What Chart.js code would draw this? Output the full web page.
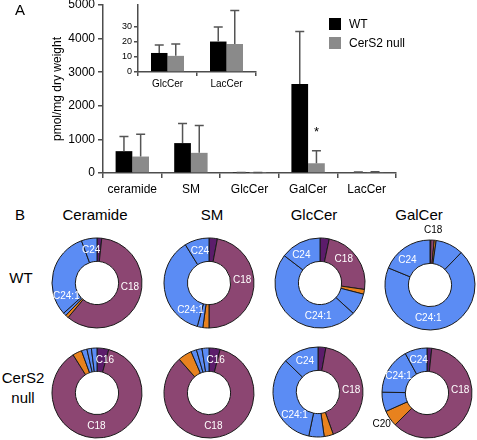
<!DOCTYPE html>
<html>
<head>
<meta charset="utf-8">
<script src="https://cdn.jsdelivr.net/npm/chart.js@4.4.0/dist/chart.umd.min.js"></script>
<style>
  html, body { margin: 0; padding: 0; background: #fff; }
  body { width: 477px; height: 440px; position: relative; overflow: hidden;
         font-family: "Liberation Sans", Arial, Helvetica, sans-serif; color: #000; }
  .abs { position: absolute; }
  .txt { position: absolute; white-space: nowrap; line-height: 1; transform: translate(-50%, -50%); text-align: center; }
  .key { position: absolute; width: 12px; height: 12px; }
</style>
</head>
<body>
<!-- panel A -->
<canvas id="main" class="abs" width="477" height="200" style="left:0;top:0"></canvas>
<canvas id="inset" class="abs" width="180" height="95" style="left:90px;top:0"></canvas>
<div class="txt" style="left:20px;top:9px;font-size:15px">A</div>
<div class="key" style="left:329px;top:18px;background:#000"></div>
<div class="abs" style="left:349px;top:17px;font-size:12px;line-height:14px">WT</div>
<div class="key" style="left:329px;top:37px;background:#8a8a8a"></div>
<div class="abs" style="left:349px;top:36px;font-size:12px;line-height:14px">CerS2 null</div>

<!-- panel B -->
<div class="txt" style="left:20px;top:214px;font-size:15px">B</div>
<div class="txt" style="left:95px;top:214px;font-size:15px">Ceramide</div>
<div class="txt" style="left:212px;top:214px;font-size:15px">SM</div>
<div class="txt" style="left:314px;top:214px;font-size:15px">GlcCer</div>
<div class="txt" style="left:419px;top:214px;font-size:15px">GalCer</div>
<div class="txt" style="left:21px;top:277px;font-size:15px">WT</div>
<div class="txt" style="left:23px;top:388px;font-size:15px;line-height:20px">CerS2<br>null</div>
<div id="donuts"></div>

<script>
// ---- panel A data ----
const categories = ['ceramide', 'SM', 'GlcCer', 'GalCer', 'LacCer'];
const wtMean = [650, 890, 12.5, 2650, 20];
const wtErr = [440, 580, 5.3, 1560, 9.6];
const nullMean = [490, 600, 10.6, 290, 18.4];
const nullErr = [660, 810, 7.8, 375, 22];
const nullMarks = ['', '', '', '*', ''];
const insetIdx = [2, 4]; // GlcCer, LacCer zoomed in

// ---- panel B data (% of each species) ----
const species = ['C16', 'C18', 'C20', 'C22', 'C24:1', 'C24'];
const ceramideWT = [1.7, 59.4, 1.1, 1.1, 31.1, 5.6];
const smWT = [3, 47, 2.2, 2, 37, 8.8];
const glcWT = [3.3, 24, 1.7, 7.8, 48.6, 14.6];
const galWT = [0.3, 1.2, 0.7, 10, 69, 18.8];
const ceramideNull = [4.2, 86.9, 3.3, 2, 1.6, 2];
const smNull = [4, 84.5, 5, 2, 2, 2.5];
const glcNull = [2.8, 41.7, 3.3, 5.5, 33.9, 12.8];
const galNull = [1.7, 60.8, 5.8, 7, 16.7, 8];

const FONT = '"Liberation Sans", Arial, Helvetica, sans-serif';
const AXIS = '#4d4d4d';
const speciesColors = ['#5c1c6b', '#8c4672', '#e8821e', '#5b8cf4', '#5b8cf4', '#5b8cf4'];

// error bars (upper half only) + significance marks
const errorBars = {
  id: 'errorBars',
  afterDatasetsDraw(chart) {
    const ctx = chart.ctx;
    const y = chart.scales.y;
    ctx.save();
    ctx.strokeStyle = '#555';
    ctx.lineWidth = 1.5;
    chart.data.datasets.forEach((ds, di) => {
      const meta = chart.getDatasetMeta(di);
      meta.data.forEach((bar, k) => {
        const top = y.getPixelForValue(ds.data[k] + ds.errors[k]);
        ctx.beginPath();
        ctx.moveTo(bar.x, bar.y);
        ctx.lineTo(bar.x, top);
        ctx.moveTo(bar.x - 4.5, top);
        ctx.lineTo(bar.x + 4.5, top);
        ctx.stroke();
        if (ds.marks && ds.marks[k]) {
          ctx.fillStyle = '#000';
          ctx.font = '13px ' + FONT;
          ctx.textAlign = 'center';
          ctx.fillText(ds.marks[k], bar.x, top - 15);
        }
      });
    });
    ctx.restore();
  }
};

const axisGrid = (len) => ({ drawOnChartArea: false, drawTicks: true, tickLength: len, color: AXIS, lineWidth: 1.5 });
const axisBorder = { display: true, color: AXIS, width: 1.5 };

new Chart(document.getElementById('main'), {
  type: 'bar',
  data: {
    labels: categories,
    datasets: [
      { label: 'WT', data: wtMean, errors: wtErr, backgroundColor: '#000' },
      { label: 'CerS2 null', data: nullMean, errors: nullErr, marks: nullMarks, backgroundColor: '#8a8a8a' }
    ]
  },
  options: {
    responsive: false, animation: false, events: [],
    layout: { padding: { left: 50, right: 81, top: 5, bottom: 0 } },
    plugins: { legend: { display: false }, tooltip: { enabled: false } },
    datasets: { bar: { categoryPercentage: 0.57, barPercentage: 1 } },
    scales: {
      x: {
        grid: Object.assign(axisGrid(5), { offset: true }),
        border: axisBorder,
        ticks: { color: '#000', font: { size: 12, family: FONT }, padding: 4, maxRotation: 0, autoSkip: false },
        afterFit: s => { s.height = 27; }
      },
      y: {
        min: 0, max: 5000,
        grid: axisGrid(5),
        border: axisBorder,
        ticks: { stepSize: 1000, color: '#000', font: { size: 12, family: FONT }, padding: 3, callback: v => String(v) },
        title: { display: true, text: 'pmol/mg dry weight', color: '#000', font: { size: 12, family: FONT }, padding: 0 },
        afterFit: s => { s.width = 53; s.paddingTop = 0; s.paddingBottom = 0; }
      }
    }
  },
  plugins: [errorBars]
});

new Chart(document.getElementById('inset'), {
  type: 'bar',
  data: {
    labels: insetIdx.map(i => categories[i]),
    datasets: [
      { data: insetIdx.map(i => wtMean[i]), errors: insetIdx.map(i => wtErr[i]), backgroundColor: '#000' },
      { data: insetIdx.map(i => nullMean[i]), errors: insetIdx.map(i => nullErr[i]), backgroundColor: '#8a8a8a' }
    ]
  },
  options: {
    responsive: false, animation: false, events: [],
    layout: { padding: { left: 0, right: 14, top: 5, bottom: 0 } },
    plugins: { legend: { display: false }, tooltip: { enabled: false } },
    datasets: { bar: { categoryPercentage: 0.56, barPercentage: 1 } },
    scales: {
      x: {
        grid: Object.assign(axisGrid(4), { offset: true }),
        border: axisBorder,
        ticks: { color: '#000', font: { size: 10, family: FONT }, padding: 2, maxRotation: 0, autoSkip: false },
        afterFit: s => { s.height = 23; }
      },
      y: {
        min: 0, max: 44,
        grid: axisGrid(4),
        border: axisBorder,
        ticks: { stepSize: 10, color: '#000', font: { size: 9, family: FONT }, padding: 2 },
        afterBuildTicks: s => { s.ticks = s.ticks.filter(t => t.value % 10 === 0); },
        afterFit: s => { s.width = 48; s.paddingTop = 0; s.paddingBottom = 0; }
      }
    }
  },
  plugins: [errorBars]
});

// ---- panel B doughnuts ----
// labels on slices: i = species index, f = where along the slice, out = outside the ring
function sliceLabels(spots) {
  return {
    id: 'sliceLabels',
    afterDatasetsDraw(chart) {
      const meta = chart.getDatasetMeta(0);
      const ctx = chart.ctx;
      ctx.save();
      ctx.font = '10px ' + FONT;
      ctx.textAlign = 'center';
      ctx.textBaseline = 'middle';
      spots.forEach(s => {
        const p = meta.data[s.i].getProps(['x', 'y', 'startAngle', 'endAngle', 'innerRadius', 'outerRadius']);
        const f = s.f === undefined ? 0.5 : s.f;
        const a = p.startAngle + (p.endAngle - p.startAngle) * f;
        const r = s.out ? p.outerRadius + 10 : (p.innerRadius + p.outerRadius) / 2;
        ctx.fillStyle = s.out ? '#000' : '#fff';
        ctx.fillText(species[s.i], p.x + Math.cos(a) * r, p.y + Math.sin(a) * r);
      });
      ctx.restore();
    }
  };
}

const donuts = [
  { data: ceramideWT, cx: 97, cy: 283, spots: [{ i: 5 }, { i: 4, f: 0.17 }, { i: 1, f: 0.43 }] },
  { data: smWT, cx: 209, cy: 283, spots: [{ i: 5 }, { i: 4, f: 0.14 }, { i: 1, f: 0.44 }] },
  { data: glcWT, cx: 320, cy: 283, spots: [{ i: 5, f: 0.35 }, { i: 1, f: 0.39 }, { i: 4, f: 0.29 }] },
  { data: galWT, cx: 430, cy: 285, spots: [{ i: 5, f: 0.37 }, { i: 4, f: 0.56 }, { i: 1, out: true }] },
  { data: ceramideNull, cx: 97, cy: 393, spots: [{ i: 0, f: 0.9 }, { i: 1, f: 0.53 }] },
  { data: smNull, cx: 209, cy: 393, spots: [{ i: 0, f: 0.8 }, { i: 1, f: 0.52 }] },
  { data: glcNull, cx: 318, cy: 392, spots: [{ i: 5 }, { i: 1, f: 0.51 }, { i: 4, f: 0.27 }] },
  { data: galNull, cx: 427, cy: 393, spots: [{ i: 5 }, { i: 4 }, { i: 1, f: 0.36 }, { i: 2, out: true }] }
];

const holder = document.getElementById('donuts');
donuts.forEach(d => {
  const c = document.createElement('canvas');
  c.width = 130;
  c.height = 130;
  c.className = 'abs';
  c.style.left = (d.cx - 65) + 'px';
  c.style.top = (d.cy - 65) + 'px';
  holder.appendChild(c);
  new Chart(c, {
    type: 'doughnut',
    data: {
      labels: species,
      datasets: [{ data: d.data, backgroundColor: speciesColors, borderColor: '#1a1a1a', borderWidth: 1 }]
    },
    options: {
      responsive: false, animation: false, events: [],
      radius: 45, cutout: '48%',
      plugins: { legend: { display: false }, tooltip: { enabled: false } }
    },
    plugins: [sliceLabels(d.spots)]
  });
});
</script>
</body>
</html>
